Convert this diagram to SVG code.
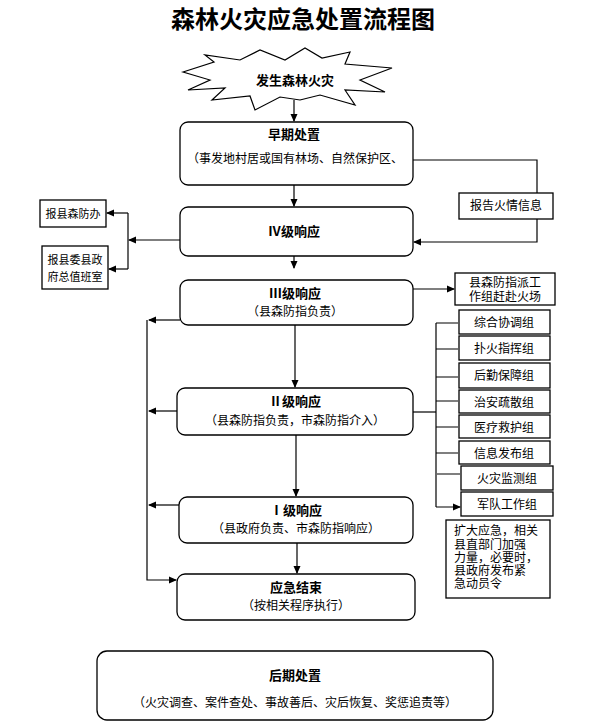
<svg xmlns="http://www.w3.org/2000/svg" width="606" height="728" viewBox="0 0 606 728">
<style>
text{font-family:"Liberation Serif","Noto Sans CJK SC",serif;fill:#000;text-anchor:middle}
.b{font-weight:bold;font-size:13px}
.s{font-size:12px}
.t{font-size:11px}
.n rect{fill:#fff;stroke:#000;stroke-width:1.3}
#conn path{fill:none;stroke:#000;stroke-width:1.2}
</style>
<defs><marker id="a" markerWidth="8" markerHeight="8" refX="7" refY="4" orient="auto" markerUnits="userSpaceOnUse"><path d="M0,0.5L8,4L0,7.5z" fill="#000"/></marker></defs>
<rect width="606" height="728" fill="#fff"/>
<text x="303" y="28" style="font-size:24px;font-weight:bold">森林火灾应急处置流程图</text>
<g id="start" class="n"><path d="M183,72 L214,62 L205,55 L240,60 L260,50 L285,60 L305,48 L322,58 L350,52 L345,64 L392,68 L360,80 L385,92 L345,90 L355,105 L320,95 L300,100 L280,97 L255,110 L250,96 L212,100 L225,88 L188,90 L210,80 Z" fill="#fff" stroke="#000" stroke-width="1.2"/><text class="b" x="295" y="85">发生森林火灾</text></g>
<g id="early" class="n"><rect x="180" y="122" width="233" height="63" rx="8"/><text class="b" x="294" y="139">早期处置</text><text class="s" x="295" y="163">（事发地村居或国有林场、自然保护区、</text></g>
<g id="iv" class="n"><rect x="180" y="207" width="233" height="49" rx="8"/><text class="b" x="294" y="236">Ⅳ级响应</text></g>
<g id="report" class="n"><rect x="459" y="193" width="94" height="26"/><text class="s" x="506" y="210">报告火情信息</text></g>
<g id="fbb" class="n"><rect x="40" y="200" width="66" height="27"/><text class="t" x="73" y="218">报县森防办</text></g>
<g id="zbs" class="n"><rect x="42" y="246" width="66" height="43"/><text class="t" x="75" y="264">报县委县政</text><text class="t" x="75" y="281">府总值班室</text></g>
<g id="iii" class="n"><rect x="180" y="280" width="233" height="45" rx="8"/><text class="b" x="295" y="298">Ⅲ级响应</text><text class="s" x="295" y="316">（县森防指负责）</text></g>
<g id="team" class="n"><rect x="455" y="273" width="100" height="32"/><text class="s" x="505" y="287">县森防指派工</text><text class="s" x="505" y="301">作组赶赴火场</text></g>
<g id="ii" class="n"><rect x="177" y="388" width="236" height="47" rx="8"/><text class="b" x="295" y="406">Ⅱ级响应</text><text class="s" x="295" y="425">（县森防指负责，市森防指介入）</text></g>
<g id="i" class="n"><rect x="179" y="497" width="234" height="46" rx="8"/><text class="b" x="296" y="515">Ⅰ级响应</text><text class="s" x="296" y="533">（县政府负责、市森防指响应）</text></g>
<g id="end" class="n"><rect x="177" y="574" width="238" height="46" rx="8"/><text class="b" x="296" y="592">应急结束</text><text class="s" x="296" y="610">（按相关程序执行）</text></g>
<g id="post" class="n"><rect x="97" y="651" width="396" height="69" rx="10"/><text class="b" x="295" y="680">后期处置</text><text class="s" x="295" y="707">（火灾调查、案件查处、事故善后、灾后恢复、奖惩追责等）</text></g>
<g id="g1" class="n"><rect x="459" y="310" width="91" height="24"/><text class="s" x="504" y="327">综合协调组</text></g>
<g id="g2" class="n"><rect x="459" y="336" width="91" height="24"/><text class="s" x="504" y="353">扑火指挥组</text></g>
<g id="g3" class="n"><rect x="459" y="363" width="91" height="25"/><text class="s" x="504" y="380">后勤保障组</text></g>
<g id="g4" class="n"><rect x="459" y="390" width="91" height="23"/><text class="s" x="504" y="407">治安疏散组</text></g>
<g id="g5" class="n"><rect x="459" y="415" width="91" height="23"/><text class="s" x="504" y="432">医疗救护组</text></g>
<g id="g6" class="n"><rect x="459" y="441" width="91" height="23"/><text class="s" x="504" y="458">信息发布组</text></g>
<g id="g7" class="n"><rect x="461" y="466" width="92" height="24"/><text class="s" x="507" y="483">火灾监测组</text></g>
<g id="g8" class="n"><rect x="461" y="492" width="92" height="24"/><text class="s" x="507" y="509">军队工作组</text></g>
<g id="note" class="n"><rect x="446" y="520" width="104" height="78"/><text class="s" x="454" y="535" style="text-anchor:start">扩大应急，相关</text><text class="s" x="454" y="549" style="text-anchor:start">县直部门加强</text><text class="s" x="454" y="562" style="text-anchor:start">力量，必要时，</text><text class="s" x="454" y="575" style="text-anchor:start">县政府发布紧</text><text class="s" x="454" y="588" style="text-anchor:start">急动员令</text></g>
<g id="conn">
<path d="M294,100V121" marker-end="url(#a)"/>
<path d="M294,185V206" marker-end="url(#a)"/>
<path d="M413,160H537V193"/>
<path d="M537,219V242H414" marker-end="url(#a)"/>
<path d="M180,240H129" marker-end="url(#a)"/>
<path d="M128,213V269"/>
<path d="M128,213H107" marker-end="url(#a)"/>
<path d="M128,269H109" marker-end="url(#a)"/>
<path d="M294,256V268" marker-end="url(#a)"/>
<path d="M413,289H454" marker-end="url(#a)"/>
<path d="M295,325V387" marker-end="url(#a)"/>
<path d="M180,320H149" marker-end="url(#a)"/>
<path d="M177,411H149" marker-end="url(#a)"/>
<path d="M179,505H149" marker-end="url(#a)"/>
<path d="M147,320V580H176" marker-end="url(#a)"/>
<path d="M413,412H436"/>
<path d="M436,323V507"/>
<path d="M436,323H458M436,349H458M436,377H458M436,401H458M436,427H458M436,453H458M437,474H460M436,507H460" marker-end="url(#a)"/>
<path d="M296,435V496" marker-end="url(#a)"/>
<path d="M297,543V573" marker-end="url(#a)"/>
</g>
</svg>
